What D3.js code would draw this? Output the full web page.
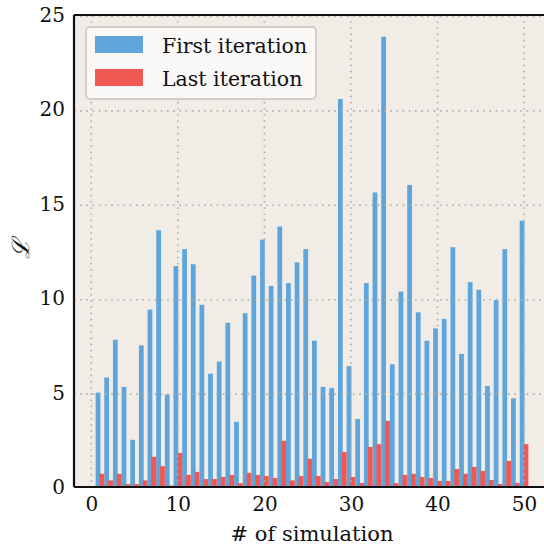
<!DOCTYPE html>
<html>
<head>
<meta charset="utf-8">
<script src="https://cdn.jsdelivr.net/npm/d3@7"></script>
<style>
  body { margin: 0; background: #fff; }
</style>
</head>
<body>
<div id="chart"></div>
<script>
// data
var sims = d3.range(1, 51);
var firstIter = [5.0, 5.8, 7.8, 5.3, 2.5, 7.5, 9.4, 13.6, 4.9, 11.7,
                 12.6, 11.8, 9.65, 6.0, 6.65, 8.7, 3.45, 9.2, 11.2, 13.1,
                 10.65, 13.8, 10.8, 11.9, 12.6, 7.75, 5.3, 5.25, 20.55, 6.4,
                 3.6, 10.8, 15.6, 23.85, 6.5, 10.35, 16.0, 9.25, 7.75, 8.4,
                 8.9, 12.7, 7.05, 10.85, 10.45, 5.35, 9.9, 12.6, 4.7, 14.1];
var lastIter = [0.7, 0.35, 0.7, 0.15, 0.15, 0.35, 1.6, 1.1, 0.08, 1.8,
                0.64, 0.8, 0.42, 0.42, 0.53, 0.64, 0.2, 0.75, 0.64, 0.58,
                0.48, 2.45, 0.35, 0.58, 1.5, 0.58, 0.26, 0.42, 1.85, 0.53,
                0.21, 2.12, 2.27, 3.5, 0.2, 0.64, 0.7, 0.53, 0.48, 0.32,
                0.32, 0.95, 0.7, 1.06, 0.85, 0.37, 0.16, 1.38, 0.21, 2.27];
var seriesNames = ["First iteration", "Last iteration"];
var colors = ["#5da5da", "#f15854"];
var xTicks = [0, 10, 20, 30, 40, 50];
var yTicks = [0, 5, 10, 15, 20, 25];

var FONT = "'DejaVu Serif', serif";
var W = 544, H = 546;
var margin = {top: 15, right: -6, bottom: 59, left: 74};
var width = W - margin.left - margin.right, height = H - margin.top - margin.bottom;

var svg = d3.select("#chart").append("svg")
    .attr("width", W).attr("height", H)
    .style("font-family", FONT);

var g = svg.append("g")
    .attr("transform", "translate(" + margin.left + "," + margin.top + ")");

var x = d3.scaleLinear().domain([-2, 53]).range([0, width]);
var y = d3.scaleLinear().domain([0, 25]).range([height, 0]);

// background
g.append("rect")
    .attr("width", width).attr("height", height)
    .attr("fill", "#f1ece6");

// bars
var bw = 0.55;
g.selectAll(".first").data(sims).enter().append("rect")
    .attr("x", function(d){ return x(d - 0.5); })
    .attr("y", function(d, i){ return y(firstIter[i]); })
    .attr("width", x(bw) - x(0))
    .attr("height", function(d, i){ return y(0) - y(firstIter[i]); })
    .attr("fill", colors[0]);

g.selectAll(".last").data(sims).enter().append("rect")
    .attr("x", function(d){ return x(d - 0.05); })
    .attr("y", function(d, i){ return y(lastIter[i]); })
    .attr("width", x(bw) - x(0))
    .attr("height", function(d, i){ return y(0) - y(lastIter[i]); })
    .attr("fill", colors[1]);

// grid on top of bars
g.append("g").selectAll("line").data(xTicks).enter().append("line")
    .attr("x1", function(d){ return x(d); }).attr("x2", function(d){ return x(d); })
    .attr("y1", 0).attr("y2", height)
    .attr("stroke", "#b0aca8").attr("stroke-width", 1.6)
    .attr("stroke-dasharray", "1.6,4.6");
g.append("g").selectAll("line").data(yTicks.slice(1)).enter().append("line")
    .attr("y1", function(d){ return y(d) + 1.5; }).attr("y2", function(d){ return y(d) + 1.5; })
    .attr("x1", 0).attr("x2", width)
    .attr("stroke", "#b0aca8").attr("stroke-width", 1.6)
    .attr("stroke-dasharray", "1.6,4.6");

// axes
var xAxis = g.append("g")
    .attr("transform", "translate(0," + height + ")")
    .call(d3.axisBottom(x).tickValues(xTicks).tickSize(0).tickPadding(10));
var yAxis = g.append("g")
    .call(d3.axisLeft(y).tickValues(yTicks).tickSize(0).tickPadding(9));
[xAxis, yAxis].forEach(function(a){
    a.attr("font-family", null).attr("font-size", null);
    a.select(".domain").remove();
    a.selectAll("text")
        .style("font-family", FONT)
        .style("font-size", "20px")
        .attr("fill", "#111");
});

// spines
g.append("line").attr("x1", 0).attr("x2", 0).attr("y1", 0).attr("y2", height)
    .attr("stroke", "#111").attr("stroke-width", 2.2);
g.append("line").attr("x1", 0).attr("x2", width).attr("y1", height).attr("y2", height)
    .attr("stroke", "#111").attr("stroke-width", 2.2);
g.append("line").attr("x1", 0).attr("x2", width).attr("y1", 0).attr("y2", 0)
    .attr("stroke", "#111").attr("stroke-width", 2.2);
g.append("line").attr("x1", width).attr("x2", width).attr("y1", 0).attr("y2", height)
    .attr("stroke", "#111").attr("stroke-width", 2.2);

// axis titles
svg.append("text")
    .attr("x", 312).attr("y", 541)
    .attr("text-anchor", "middle")
    .attr("fill", "#111")
    .style("font-family", FONT)
    .style("font-size", "21px")
    .text("# of simulation");

svg.append("text")
    .attr("transform", "translate(29,249) rotate(-90)")
    .attr("text-anchor", "middle")
    .attr("fill", "#111")
    .style("font-family", FONT)
    .style("font-size", "24px")
    .style("font-style", "italic")
    .text("\u2112");

// legend
var leg = svg.append("g").attr("transform", "translate(86,27)");
leg.append("rect")
    .attr("width", 230).attr("height", 72)
    .attr("rx", 4)
    .attr("fill", "#fcfbfa").attr("fill-opacity", 0.9)
    .attr("stroke", "#cfcdcb").attr("stroke-width", 1.8);
seriesNames.forEach(function(name, i){
    leg.append("rect")
        .attr("x", 9).attr("y", 9 + i * 33)
        .attr("width", 48).attr("height", 17)
        .attr("fill", colors[i]);
    leg.append("text")
        .attr("x", 76).attr("y", 26 + i * 33)
        .attr("fill", "#111")
        .style("font-family", FONT)
        .style("font-size", "20.5px")
        .text(name);
});
</script>
</body>
</html>
